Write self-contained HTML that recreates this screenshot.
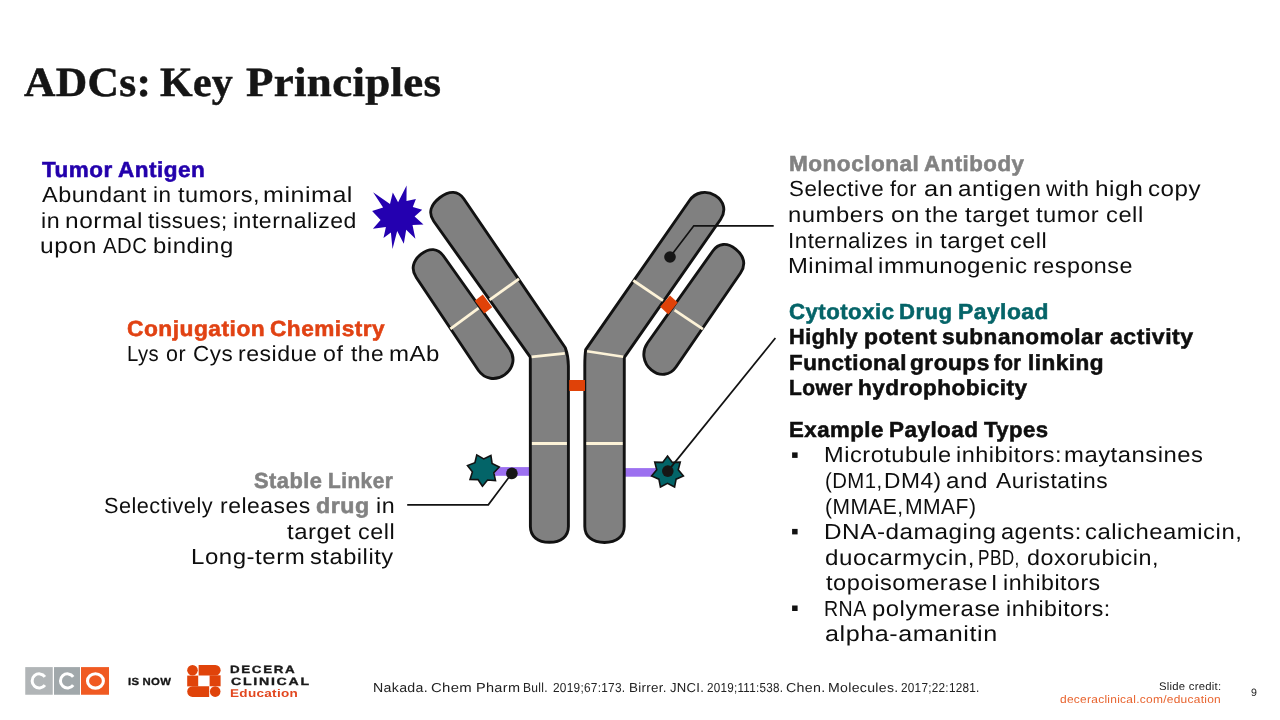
<!DOCTYPE html>
<html lang="en">
<head>
<meta charset="utf-8">
<title>ADCs: Key Principles</title>
<style>
html,body{margin:0;padding:0;background:#fff;}
body{width:1280px;height:720px;overflow:hidden;position:relative;}
.gfx{position:absolute;left:0;top:0;}
.txt{position:absolute;left:0;top:0;width:1280px;height:720px;will-change:transform;text-rendering:geometricPrecision;}
.t{position:absolute;white-space:pre;line-height:26px;height:26px;margin:0;padding:0;transform-origin:0 50%;}
.s{font-family:"Liberation Sans",sans-serif;}
.f{font-family:"Liberation Serif",serif;}
</style>
</head>
<body>
<svg class="gfx" width="1280" height="720" viewBox="0 0 1280 720">
<rect x="495" y="467.1" width="35" height="8.7" fill="#9c70f0"/>
<rect x="624" y="468.1" width="34" height="8.6" fill="#9c70f0"/>
<path d="M416.30,277.50 C410.82,269.68 412.63,260.80 421.07,254.13 C429.50,247.47 438.02,248.18 443.50,256.00 L509.50,349.00 C515.62,357.74 513.54,368.59 504.55,374.82 C495.56,381.06 484.62,379.24 478.50,370.50 Z" fill="#808080" stroke="#121212" stroke-width="2.9" stroke-linejoin="round"/>
<path d="M712.80,251.00 C718.42,242.98 727.13,242.24 735.71,249.06 C744.30,255.88 746.12,264.98 740.50,273.00 L676.00,367.00 C669.95,375.65 659.58,376.87 651.31,369.91 C643.05,362.95 641.45,351.65 647.50,343.00 Z" fill="#808080" stroke="#121212" stroke-width="2.9" stroke-linejoin="round"/>
<path d="M433.75,221.25 C428.13,213.23 430.37,204.67 439.97,197.47 C449.57,190.27 458.13,190.73 463.75,198.75 L565.3,347.8 C567.2,353 568.4,359 568.4,366 L568.4,526.5 C568.40,536.30 561.18,542.30 549.40,542.30 C537.62,542.30 530.40,536.30 530.40,526.50 L530.3,357.2 Z" fill="#808080" stroke="#121212" stroke-width="2.9" stroke-linejoin="round"/>
<path d="M689.50,200.50 C695.42,192.04 706.22,189.91 715.21,195.42 C724.20,200.93 726.42,211.04 720.50,219.50 L624.3,357.3 L624.2,526.5 C624.20,536.42 616.71,542.50 604.50,542.50 C592.29,542.50 584.80,536.42 584.80,526.50 L584.8,366 C584.8,359 585,354 585.7,349.6 Z" fill="#808080" stroke="#121212" stroke-width="2.9" stroke-linejoin="round"/>
<line x1="450.4" y1="328.8" x2="478.6" y2="308.1" stroke="#fdf3d8" stroke-width="2.8"/>
<line x1="489.6" y1="299.8" x2="519.0" y2="278.9" stroke="#fdf3d8" stroke-width="2.8"/>
<line x1="633.3" y1="280.5" x2="663.0" y2="300.6" stroke="#fdf3d8" stroke-width="2.8"/>
<line x1="674.6" y1="310.2" x2="703.0" y2="329.1" stroke="#fdf3d8" stroke-width="2.8"/>
<line x1="531.6" y1="356.9" x2="564.8" y2="353.4" stroke="#fdf3d8" stroke-width="2.6"/>
<line x1="587.1" y1="351.3" x2="623.2" y2="356.8" stroke="#fdf3d8" stroke-width="2.6"/>
<line x1="531.9" y1="443.4" x2="566.9" y2="443.4" stroke="#fdf3d8" stroke-width="3.0"/>
<line x1="586.3" y1="443.4" x2="622.7" y2="443.4" stroke="#fdf3d8" stroke-width="3.0"/>
<polygon points="482.8,294.6 492.2,307.2 484.2,313.5 474.8,300.8" fill="#e04208"/>
<polygon points="670.0,295.6 677.7,302.6 668.4,314.4 660.2,306.8" fill="#e04208"/>
<rect x="569.2" y="380" width="15.8" height="11" fill="#e04208"/>
<polygon points="406.6,185.6 406.5,201.0 415.9,199.0 412.8,206.9 422.2,209.8 414.6,216.5 423.5,224.6 412.5,225.0 415.4,238.8 406.2,229.8 403.8,243.8 397.2,231.0 392.5,249.0 390.9,232.5 383.5,237.9 385.9,226.9 372.9,228.8 380.6,220.0 372.1,210.9 383.1,207.5 373.1,192.2 390.0,204.0 392.8,192.5 398.1,202.2" fill="#2400b0"/>
<polygon points="482.49,486.18 478.00,479.59 470.02,479.50 472.38,471.88 467.48,465.58 474.91,462.67 476.78,454.92 483.68,458.91 490.91,455.54 492.09,463.42 499.23,466.97 493.81,472.81 495.49,480.61 487.54,480.01" fill="#036468" stroke="#121212" stroke-width="1.6" stroke-linejoin="miter"/>
<polygon points="667.50,456.00 672.27,462.39 680.24,462.14 678.22,469.85 683.39,475.93 676.10,479.16 674.57,486.99 667.50,483.30 660.43,486.99 658.90,479.16 651.61,475.93 656.78,469.85 654.76,462.14 662.73,462.39" fill="#036468" stroke="#121212" stroke-width="1.6" stroke-linejoin="miter"/>
<polyline points="407.2,504.8 488.3,504.8 512,473.3" fill="none" stroke="#121212" stroke-width="1.7"/>
<polyline points="773.7,225.8 693.8,225.8 670,257" fill="none" stroke="#121212" stroke-width="1.7"/>
<line x1="775.4" y1="338" x2="667.8" y2="471.1" stroke="#121212" stroke-width="1.7"/>
<circle cx="511.9" cy="473.4" r="5.8" fill="#161616"/>
<circle cx="670.0" cy="257.0" r="5.8" fill="#161616"/>
<circle cx="667.8" cy="471.1" r="5.8" fill="#161616"/>
<rect x="792.1" y="452.4" width="5.5" height="5.5" fill="#111"/>
<rect x="792.1" y="528.9" width="5.5" height="5.5" fill="#111"/>
<rect x="792.1" y="605.5" width="5.5" height="5.5" fill="#111"/>
<rect x="25.25" y="667.1" width="27.5" height="27.65" fill="#b1b5b7"/>
<rect x="54" y="667.1" width="26" height="27.65" fill="#a1a8ab"/>
<rect x="81" y="667.1" width="28" height="27.65" fill="#f05a22"/>
<path d="M44.90,676.76 A7.05,7.05 0 1 0 44.90,685.04" fill="none" stroke="#fff" stroke-width="3"/>
<path d="M73.20,676.76 A7.05,7.05 0 1 0 73.20,685.04" fill="none" stroke="#fff" stroke-width="3"/>
<ellipse cx="95.45" cy="680.9" rx="7.95" ry="7.2" fill="none" stroke="#fff" stroke-width="3.1"/>
<circle cx="192.5" cy="670.3" r="5.3" fill="#e0430a"/>
<path d="M198.6,665 H215.4 A5.2,5.2 0 0 1 215.4,675.5 H198.6 Z" fill="#e0430a"/>
<rect x="187.2" y="675.6" width="11" height="10.8" fill="#e0430a"/>
<rect x="209.6" y="675.3" width="11" height="11" fill="#e0430a"/>
<path d="M209.2,686.3 H192.5 A5.3,5.3 0 0 0 192.5,696.9 H209.2 Z" fill="#e0430a"/>
<circle cx="215.2" cy="691.6" r="5.3" fill="#e0430a"/>
</svg>
<div class="txt">
<div class="t f" id="title_0" style="left:24.10px;top:69.00px;font-size:41.50px;letter-spacing:0.30px;font-weight:bold;color:#151515;transform:scaleX(1.0500);-webkit-text-stroke:0.50px #151515">ADCs:</div>
<div class="t f" id="title_1" style="left:160.30px;top:69.00px;font-size:41.50px;letter-spacing:0.30px;font-weight:bold;color:#151515;transform:scaleX(1.0109);-webkit-text-stroke:0.50px #151515">Key</div>
<div class="t f" id="title_2" style="left:245.70px;top:69.00px;font-size:41.50px;letter-spacing:0.30px;font-weight:bold;color:#151515;transform:scaleX(1.0824);-webkit-text-stroke:0.50px #151515">Principles</div>
<div class="t s" id="ta1_0" style="left:41.95px;top:157.00px;font-size:21.80px;letter-spacing:0.48px;font-weight:bold;color:#2300ac;transform:scaleX(1.0310);-webkit-text-stroke:0.55px #2300ac">Tumor</div>
<div class="t s" id="ta1_1" style="left:118.20px;top:157.00px;font-size:21.80px;letter-spacing:0.48px;font-weight:bold;color:#2300ac;transform:scaleX(1.0344);-webkit-text-stroke:0.55px #2300ac">Antigen</div>
<div class="t s" id="ta2_0" style="left:41.95px;top:182.00px;font-size:21.80px;letter-spacing:0.48px;font-weight:normal;color:#0e0e0e;transform:scaleX(1.0781)">Abundant</div>
<div class="t s" id="ta2_1" style="left:153.45px;top:182.00px;font-size:21.80px;letter-spacing:0.48px;font-weight:normal;color:#0e0e0e;transform:scaleX(1.0305)">in</div>
<div class="t s" id="ta2_2" style="left:178.20px;top:182.00px;font-size:21.80px;letter-spacing:0.48px;font-weight:normal;color:#0e0e0e;transform:scaleX(1.0801)">tumors,</div>
<div class="t s" id="ta2_3" style="left:262.70px;top:182.00px;font-size:21.80px;letter-spacing:0.48px;font-weight:normal;color:#0e0e0e;transform:scaleX(1.1470)">minimal</div>
<div class="t s" id="ta3_0" style="left:41.20px;top:208.00px;font-size:21.80px;letter-spacing:0.48px;font-weight:normal;color:#0e0e0e;transform:scaleX(1.0664)">in</div>
<div class="t s" id="ta3_1" style="left:64.95px;top:208.00px;font-size:21.80px;letter-spacing:0.48px;font-weight:normal;color:#0e0e0e;transform:scaleX(1.1217)">normal</div>
<div class="t s" id="ta3_2" style="left:147.70px;top:208.00px;font-size:21.80px;letter-spacing:0.48px;font-weight:normal;color:#0e0e0e;transform:scaleX(1.0262)">tissues;</div>
<div class="t s" id="ta3_3" style="left:233.45px;top:208.00px;font-size:21.80px;letter-spacing:0.48px;font-weight:normal;color:#0e0e0e;transform:scaleX(1.0562)">internalized</div>
<div class="t s" id="ta4_0" style="left:39.95px;top:233.00px;font-size:21.80px;letter-spacing:0.48px;font-weight:normal;color:#0e0e0e;transform:scaleX(1.1280)">upon</div>
<div class="t s" id="ta4_1" style="left:103.20px;top:233.00px;font-size:21.80px;letter-spacing:0.48px;font-weight:normal;color:#0e0e0e;transform:scaleX(0.9341)">ADC</div>
<div class="t s" id="ta4_2" style="left:153.20px;top:233.00px;font-size:21.80px;letter-spacing:0.48px;font-weight:normal;color:#0e0e0e;transform:scaleX(1.0955)">binding</div>
<div class="t s" id="cc1_0" style="left:127.20px;top:316.00px;font-size:21.80px;letter-spacing:0.48px;font-weight:bold;color:#e14213;transform:scaleX(1.0439);-webkit-text-stroke:0.55px #e14213">Conjugation</div>
<div class="t s" id="cc1_1" style="left:269.70px;top:316.00px;font-size:21.80px;letter-spacing:0.48px;font-weight:bold;color:#e14213;transform:scaleX(1.0382);-webkit-text-stroke:0.55px #e14213">Chemistry</div>
<div class="t s" id="cc2_0" style="left:127.20px;top:341.00px;font-size:21.80px;letter-spacing:0.48px;font-weight:normal;color:#0e0e0e;transform:scaleX(0.9299)">Lys</div>
<div class="t s" id="cc2_1" style="left:165.70px;top:341.00px;font-size:21.80px;letter-spacing:0.48px;font-weight:normal;color:#0e0e0e;transform:scaleX(0.9840)">or</div>
<div class="t s" id="cc2_2" style="left:192.70px;top:341.00px;font-size:21.80px;letter-spacing:0.48px;font-weight:normal;color:#0e0e0e;transform:scaleX(1.0290)">Cys</div>
<div class="t s" id="cc2_3" style="left:238.45px;top:341.00px;font-size:21.80px;letter-spacing:0.48px;font-weight:normal;color:#0e0e0e;transform:scaleX(1.0598)">residue</div>
<div class="t s" id="cc2_4" style="left:322.70px;top:341.00px;font-size:21.80px;letter-spacing:0.48px;font-weight:normal;color:#0e0e0e;transform:scaleX(1.0622)">of</div>
<div class="t s" id="cc2_5" style="left:350.70px;top:341.00px;font-size:21.80px;letter-spacing:0.48px;font-weight:normal;color:#0e0e0e;transform:scaleX(1.0408)">the</div>
<div class="t s" id="cc2_6" style="left:388.70px;top:341.00px;font-size:21.80px;letter-spacing:0.48px;font-weight:normal;color:#0e0e0e;transform:scaleX(1.1015)">mAb</div>
<div class="t s" id="sl1_0" style="left:253.95px;top:468.00px;font-size:21.80px;letter-spacing:0.48px;font-weight:bold;color:#828282;transform:scaleX(1.0012);-webkit-text-stroke:0.55px #828282">Stable</div>
<div class="t s" id="sl1_1" style="left:327.95px;top:468.00px;font-size:21.80px;letter-spacing:0.48px;font-weight:bold;color:#828282;transform:scaleX(0.9555);-webkit-text-stroke:0.55px #828282">Linker</div>
<div class="t s" id="sl2_0" style="left:103.70px;top:493.00px;font-size:21.80px;letter-spacing:0.48px;font-weight:normal;color:#0e0e0e;transform:scaleX(0.9961)">Selectively</div>
<div class="t s" id="sl2_1" style="left:219.70px;top:493.00px;font-size:21.80px;letter-spacing:0.48px;font-weight:normal;color:#0e0e0e;transform:scaleX(1.0525)">releases</div>
<div class="t s" id="sl2_2" style="left:316.20px;top:493.00px;font-size:21.80px;letter-spacing:0.48px;font-weight:bold;color:#828282;transform:scaleX(1.0647);-webkit-text-stroke:0.55px #828282">drug</div>
<div class="t s" id="sl2_3" style="left:375.70px;top:493.00px;font-size:21.80px;letter-spacing:0.48px;font-weight:normal;color:#0e0e0e;transform:scaleX(1.0664)">in</div>
<div class="t s" id="sl3_0" style="left:286.70px;top:519.00px;font-size:21.80px;letter-spacing:0.48px;font-weight:normal;color:#0e0e0e;transform:scaleX(1.0965)">target</div>
<div class="t s" id="sl3_1" style="left:357.95px;top:519.00px;font-size:21.80px;letter-spacing:0.48px;font-weight:normal;color:#0e0e0e;transform:scaleX(1.0723)">cell</div>
<div class="t s" id="sl4_0" style="left:190.70px;top:544.00px;font-size:21.80px;letter-spacing:0.48px;font-weight:normal;color:#0e0e0e;transform:scaleX(1.1021)">Long-term</div>
<div class="t s" id="sl4_1" style="left:310.45px;top:544.00px;font-size:21.80px;letter-spacing:0.48px;font-weight:normal;color:#0e0e0e;transform:scaleX(1.0860)">stability</div>
<div class="t s" id="ma1_0" style="left:788.70px;top:151.00px;font-size:21.80px;letter-spacing:0.48px;font-weight:bold;color:#828282;transform:scaleX(1.0354);-webkit-text-stroke:0.55px #828282">Monoclonal</div>
<div class="t s" id="ma1_1" style="left:923.95px;top:151.00px;font-size:21.80px;letter-spacing:0.48px;font-weight:bold;color:#828282;transform:scaleX(1.0215);-webkit-text-stroke:0.55px #828282">Antibody</div>
<div class="t s" id="ma2_0" style="left:788.70px;top:176.00px;font-size:21.80px;letter-spacing:0.48px;font-weight:normal;color:#0e0e0e;transform:scaleX(1.0246)">Selective</div>
<div class="t s" id="ma2_1" style="left:890.20px;top:176.00px;font-size:21.80px;letter-spacing:0.48px;font-weight:normal;color:#0e0e0e;transform:scaleX(0.9995)">for</div>
<div class="t s" id="ma2_2" style="left:923.70px;top:176.00px;font-size:21.80px;letter-spacing:0.48px;font-weight:normal;color:#0e0e0e;transform:scaleX(1.1694)">an</div>
<div class="t s" id="ma2_3" style="left:957.95px;top:176.00px;font-size:21.80px;letter-spacing:0.48px;font-weight:normal;color:#0e0e0e;transform:scaleX(1.1150)">antigen</div>
<div class="t s" id="ma2_4" style="left:1046.45px;top:176.00px;font-size:21.80px;letter-spacing:0.48px;font-weight:normal;color:#0e0e0e;transform:scaleX(1.0686)">with</div>
<div class="t s" id="ma2_5" style="left:1094.70px;top:176.00px;font-size:21.80px;letter-spacing:0.48px;font-weight:normal;color:#0e0e0e;transform:scaleX(1.1192)">high</div>
<div class="t s" id="ma2_6" style="left:1148.20px;top:176.00px;font-size:21.80px;letter-spacing:0.48px;font-weight:normal;color:#0e0e0e;transform:scaleX(1.1081)">copy</div>
<div class="t s" id="ma3_0" style="left:788.20px;top:202.00px;font-size:21.80px;letter-spacing:0.48px;font-weight:normal;color:#0e0e0e;transform:scaleX(1.0937)">numbers</div>
<div class="t s" id="ma3_1" style="left:890.70px;top:202.00px;font-size:21.80px;letter-spacing:0.48px;font-weight:normal;color:#0e0e0e;transform:scaleX(1.1473)">on</div>
<div class="t s" id="ma3_2" style="left:924.70px;top:202.00px;font-size:21.80px;letter-spacing:0.48px;font-weight:normal;color:#0e0e0e;transform:scaleX(1.0574)">the</div>
<div class="t s" id="ma3_3" style="left:964.95px;top:202.00px;font-size:21.80px;letter-spacing:0.48px;font-weight:normal;color:#0e0e0e;transform:scaleX(1.1053)">target</div>
<div class="t s" id="ma3_4" style="left:1036.45px;top:202.00px;font-size:21.80px;letter-spacing:0.48px;font-weight:normal;color:#0e0e0e;transform:scaleX(1.0887)">tumor</div>
<div class="t s" id="ma3_5" style="left:1106.20px;top:202.00px;font-size:21.80px;letter-spacing:0.48px;font-weight:normal;color:#0e0e0e;transform:scaleX(1.0887)">cell</div>
<div class="t s" id="ma4_0" style="left:788.20px;top:228.00px;font-size:21.80px;letter-spacing:0.48px;font-weight:normal;color:#0e0e0e;transform:scaleX(1.0255)">Internalizes</div>
<div class="t s" id="ma4_1" style="left:915.45px;top:228.00px;font-size:21.80px;letter-spacing:0.48px;font-weight:normal;color:#0e0e0e;transform:scaleX(1.0305)">in</div>
<div class="t s" id="ma4_2" style="left:940.20px;top:228.00px;font-size:21.80px;letter-spacing:0.48px;font-weight:normal;color:#0e0e0e;transform:scaleX(1.1052)">target</div>
<div class="t s" id="ma4_3" style="left:1010.20px;top:228.00px;font-size:21.80px;letter-spacing:0.48px;font-weight:normal;color:#0e0e0e;transform:scaleX(1.0731)">cell</div>
<div class="t s" id="ma5_0" style="left:788.20px;top:253.00px;font-size:21.80px;letter-spacing:0.48px;font-weight:normal;color:#0e0e0e;transform:scaleX(1.0932)">Minimal</div>
<div class="t s" id="ma5_1" style="left:877.70px;top:253.00px;font-size:21.80px;letter-spacing:0.48px;font-weight:normal;color:#0e0e0e;transform:scaleX(1.1082)">immunogenic</div>
<div class="t s" id="ma5_2" style="left:1032.70px;top:253.00px;font-size:21.80px;letter-spacing:0.48px;font-weight:normal;color:#0e0e0e;transform:scaleX(1.0690)">response</div>
<div class="t s" id="cy1_0" style="left:788.70px;top:299.00px;font-size:21.80px;letter-spacing:0.48px;font-weight:bold;color:#056468;transform:scaleX(1.0177);-webkit-text-stroke:0.55px #056468">Cytotoxic</div>
<div class="t s" id="cy1_1" style="left:899.20px;top:299.00px;font-size:21.80px;letter-spacing:0.48px;font-weight:bold;color:#056468;transform:scaleX(1.0145);-webkit-text-stroke:0.55px #056468">Drug</div>
<div class="t s" id="cy1_2" style="left:957.95px;top:299.00px;font-size:21.80px;letter-spacing:0.48px;font-weight:bold;color:#056468;transform:scaleX(1.0465);-webkit-text-stroke:0.55px #056468">Payload</div>
<div class="t s" id="cy2_0" style="left:788.70px;top:324.00px;font-size:21.80px;letter-spacing:0.48px;font-weight:bold;color:#0e0e0e;transform:scaleX(0.9947);-webkit-text-stroke:0.55px #0e0e0e">Highly</div>
<div class="t s" id="cy2_1" style="left:864.20px;top:324.00px;font-size:21.80px;letter-spacing:0.48px;font-weight:bold;color:#0e0e0e;transform:scaleX(1.0530);-webkit-text-stroke:0.55px #0e0e0e">potent</div>
<div class="t s" id="cy2_2" style="left:941.70px;top:324.00px;font-size:21.80px;letter-spacing:0.48px;font-weight:bold;color:#0e0e0e;transform:scaleX(1.0351);-webkit-text-stroke:0.55px #0e0e0e">subnanomolar</div>
<div class="t s" id="cy2_3" style="left:1109.70px;top:324.00px;font-size:21.80px;letter-spacing:0.48px;font-weight:bold;color:#0e0e0e;transform:scaleX(1.0590);-webkit-text-stroke:0.55px #0e0e0e">activity</div>
<div class="t s" id="cy3_0" style="left:788.70px;top:350.00px;font-size:21.80px;letter-spacing:0.48px;font-weight:bold;color:#0e0e0e;transform:scaleX(1.0251);-webkit-text-stroke:0.55px #0e0e0e">Functional</div>
<div class="t s" id="cy3_1" style="left:910.45px;top:350.00px;font-size:21.80px;letter-spacing:0.48px;font-weight:bold;color:#0e0e0e;transform:scaleX(1.0393);-webkit-text-stroke:0.55px #0e0e0e">groups</div>
<div class="t s" id="cy3_2" style="left:994.10px;top:350.00px;font-size:21.80px;letter-spacing:0.48px;font-weight:bold;color:#0e0e0e;transform:scaleX(0.8981);-webkit-text-stroke:0.55px #0e0e0e">for</div>
<div class="t s" id="cy3_3" style="left:1027.95px;top:350.00px;font-size:21.80px;letter-spacing:0.48px;font-weight:bold;color:#0e0e0e;transform:scaleX(1.0347);-webkit-text-stroke:0.55px #0e0e0e">linking</div>
<div class="t s" id="cy4_0" style="left:788.70px;top:375.00px;font-size:21.80px;letter-spacing:0.48px;font-weight:bold;color:#0e0e0e;transform:scaleX(0.9605);-webkit-text-stroke:0.55px #0e0e0e">Lower</div>
<div class="t s" id="cy4_1" style="left:858.20px;top:375.00px;font-size:21.80px;letter-spacing:0.48px;font-weight:bold;color:#0e0e0e;transform:scaleX(1.0328);-webkit-text-stroke:0.55px #0e0e0e">hydrophobicity</div>
<div class="t s" id="ex0_0" style="left:788.70px;top:417.00px;font-size:21.80px;letter-spacing:0.48px;font-weight:bold;color:#0e0e0e;transform:scaleX(1.0195);-webkit-text-stroke:0.55px #0e0e0e">Example</div>
<div class="t s" id="ex0_1" style="left:888.70px;top:417.00px;font-size:21.80px;letter-spacing:0.48px;font-weight:bold;color:#0e0e0e;transform:scaleX(1.0289);-webkit-text-stroke:0.55px #0e0e0e">Payload</div>
<div class="t s" id="ex0_2" style="left:983.95px;top:417.00px;font-size:21.80px;letter-spacing:0.48px;font-weight:bold;color:#0e0e0e;transform:scaleX(1.0134);-webkit-text-stroke:0.55px #0e0e0e">Types</div>
<div class="t s" id="ex1_0" style="left:824.45px;top:442.00px;font-size:21.80px;letter-spacing:0.48px;font-weight:normal;color:#0e0e0e;transform:scaleX(1.0824)">Microtubule</div>
<div class="t s" id="ex1_1" style="left:955.70px;top:442.00px;font-size:21.80px;letter-spacing:0.48px;font-weight:normal;color:#0e0e0e;transform:scaleX(1.0753)">inhibitors:</div>
<div class="t s" id="ex1_2" style="left:1064.20px;top:442.00px;font-size:21.80px;letter-spacing:0.48px;font-weight:normal;color:#0e0e0e;transform:scaleX(1.0933)">maytansines</div>
<div class="t s" id="ex2_0" style="left:825.45px;top:468.00px;font-size:21.80px;letter-spacing:0.48px;font-weight:normal;color:#0e0e0e;transform:scaleX(0.9331)">(DM1,</div>
<div class="t s" id="ex2_1" style="left:884.45px;top:468.00px;font-size:21.80px;letter-spacing:0.48px;font-weight:normal;color:#0e0e0e;transform:scaleX(1.0442)">DM4)</div>
<div class="t s" id="ex2_2" style="left:946.20px;top:468.00px;font-size:21.80px;letter-spacing:0.48px;font-weight:normal;color:#0e0e0e;transform:scaleX(1.1127)">and</div>
<div class="t s" id="ex2_3" style="left:996.45px;top:468.00px;font-size:21.80px;letter-spacing:0.48px;font-weight:normal;color:#0e0e0e;transform:scaleX(1.0472)">Auristatins</div>
<div class="t s" id="ex3_0" style="left:825.45px;top:494.00px;font-size:21.80px;letter-spacing:0.48px;font-weight:normal;color:#0e0e0e;transform:scaleX(0.9631)">(MMAE,</div>
<div class="t s" id="ex3_1" style="left:905.20px;top:494.00px;font-size:21.80px;letter-spacing:0.48px;font-weight:normal;color:#0e0e0e;transform:scaleX(0.9678)">MMAF)</div>
<div class="t s" id="ex4_0" style="left:824.45px;top:519.00px;font-size:21.80px;letter-spacing:0.48px;font-weight:normal;color:#0e0e0e;transform:scaleX(1.1145)">DNA-damaging</div>
<div class="t s" id="ex4_1" style="left:1000.70px;top:519.00px;font-size:21.80px;letter-spacing:0.48px;font-weight:normal;color:#0e0e0e;transform:scaleX(1.0809)">agents:</div>
<div class="t s" id="ex4_2" style="left:1085.20px;top:519.00px;font-size:21.80px;letter-spacing:0.48px;font-weight:normal;color:#0e0e0e;transform:scaleX(1.0957)">calicheamicin,</div>
<div class="t s" id="ex5_0" style="left:825.45px;top:545.00px;font-size:21.80px;letter-spacing:0.48px;font-weight:normal;color:#0e0e0e;transform:scaleX(1.1082)">duocarmycin,</div>
<div class="t s" id="ex5_1" style="left:978.20px;top:545.00px;font-size:21.80px;letter-spacing:0.48px;font-weight:normal;color:#0e0e0e;transform:scaleX(0.7912)">PBD,</div>
<div class="t s" id="ex5_2" style="left:1026.70px;top:545.00px;font-size:21.80px;letter-spacing:0.48px;font-weight:normal;color:#0e0e0e;transform:scaleX(1.0700)">doxorubicin,</div>
<div class="t s" id="ex6_0" style="left:826.45px;top:570.00px;font-size:21.80px;letter-spacing:0.48px;font-weight:normal;color:#0e0e0e;transform:scaleX(1.0853)">topoisomerase</div>
<div class="t s" id="ex6_1" style="left:990.70px;top:570.00px;font-size:21.80px;letter-spacing:0.48px;font-weight:normal;color:#0e0e0e;transform:scaleX(1.0500)">I</div>
<div class="t s" id="ex6_2" style="left:1003.20px;top:570.00px;font-size:21.80px;letter-spacing:0.48px;font-weight:normal;color:#0e0e0e;transform:scaleX(1.0612)">inhibitors</div>
<div class="t s" id="ex7_0" style="left:824.45px;top:596.00px;font-size:21.80px;letter-spacing:0.48px;font-weight:normal;color:#0e0e0e;transform:scaleX(0.8985)">RNA</div>
<div class="t s" id="ex7_1" style="left:872.20px;top:596.00px;font-size:21.80px;letter-spacing:0.48px;font-weight:normal;color:#0e0e0e;transform:scaleX(1.0953)">polymerase</div>
<div class="t s" id="ex7_2" style="left:1005.70px;top:596.00px;font-size:21.80px;letter-spacing:0.48px;font-weight:normal;color:#0e0e0e;transform:scaleX(1.0627)">inhibitors:</div>
<div class="t s" id="ex8_0" style="left:825.45px;top:621.00px;font-size:21.80px;letter-spacing:0.48px;font-weight:normal;color:#0e0e0e;transform:scaleX(1.1537)">alpha-amanitin</div>
<div class="t s" id="ref_0" style="left:373.20px;top:675.00px;font-size:13.00px;letter-spacing:0.29px;font-weight:normal;color:#222222;transform:scaleX(1.0903)">Nakada.</div>
<div class="t s" id="ref_1" style="left:431.20px;top:675.00px;font-size:13.00px;letter-spacing:0.29px;font-weight:normal;color:#222222;transform:scaleX(1.1476)">Chem</div>
<div class="t s" id="ref_2" style="left:476.20px;top:675.00px;font-size:13.00px;letter-spacing:0.29px;font-weight:normal;color:#222222;transform:scaleX(1.1143)">Pharm</div>
<div class="t s" id="ref_3" style="left:523.20px;top:675.00px;font-size:13.00px;letter-spacing:0.29px;font-weight:normal;color:#222222;transform:scaleX(0.9257)">Bull.</div>
<div class="t s" id="ref_4" style="left:553.20px;top:675.00px;font-size:13.00px;letter-spacing:0.29px;font-weight:normal;color:#222222;transform:scaleX(0.9118)">2019;67:173.</div>
<div class="t s" id="ref_5" style="left:629.20px;top:675.00px;font-size:13.00px;letter-spacing:0.29px;font-weight:normal;color:#222222;transform:scaleX(1.0300)">Birrer.</div>
<div class="t s" id="ref_6" style="left:669.80px;top:675.00px;font-size:13.00px;letter-spacing:0.29px;font-weight:normal;color:#222222;transform:scaleX(1.0070)">JNCI.</div>
<div class="t s" id="ref_7" style="left:706.80px;top:675.00px;font-size:13.00px;letter-spacing:0.29px;font-weight:normal;color:#222222;transform:scaleX(0.8966)">2019;111:538.</div>
<div class="t s" id="ref_8" style="left:786.20px;top:675.00px;font-size:13.00px;letter-spacing:0.29px;font-weight:normal;color:#222222;transform:scaleX(1.0947)">Chen.</div>
<div class="t s" id="ref_9" style="left:828.20px;top:675.00px;font-size:13.00px;letter-spacing:0.29px;font-weight:normal;color:#222222;transform:scaleX(1.0840)">Molecules.</div>
<div class="t s" id="ref_10" style="left:900.70px;top:675.00px;font-size:13.00px;letter-spacing:0.29px;font-weight:normal;color:#222222;transform:scaleX(0.9049)">2017;22:1281.</div>
<div class="t s" id="sc1" style="left:1159.30px;top:674.00px;font-size:11.00px;letter-spacing:0.24px;font-weight:normal;color:#222222;transform:scaleX(1.0296)">Slide credit:</div>
<div class="t s" id="sc2" style="left:1059.70px;top:687.00px;font-size:11.00px;letter-spacing:0.24px;font-weight:normal;color:#e8642f;transform:scaleX(1.0882)">deceraclinical.com/education</div>
<div class="t s" id="pg" style="left:1251.00px;top:680.00px;font-size:10.60px;letter-spacing:0.23px;font-weight:normal;color:#222222;transform:scaleX(1.0000)">9</div>
<div class="t s" id="isnow" style="left:127.90px;top:670.00px;font-size:10.30px;letter-spacing:0.23px;font-weight:bold;color:#151515;transform:scaleX(1.1012);-webkit-text-stroke:0.30px #151515">IS NOW</div>
<div class="t s" id="dec1" style="left:229.80px;top:657.00px;font-size:10.50px;letter-spacing:1.30px;font-weight:bold;color:#1a1a1a;transform:scaleX(1.2721);-webkit-text-stroke:0.35px #1a1a1a">DECERA</div>
<div class="t s" id="dec2" style="left:230.80px;top:669.00px;font-size:10.50px;letter-spacing:1.30px;font-weight:bold;color:#1a1a1a;transform:scaleX(1.3428);-webkit-text-stroke:0.35px #1a1a1a">CLINICAL</div>
<div class="t s" id="dec3" style="left:229.80px;top:681.00px;font-size:11.20px;letter-spacing:0.25px;font-weight:bold;color:#e2471f;transform:scaleX(1.2086)">Education</div>
</div>
</body>
</html>
